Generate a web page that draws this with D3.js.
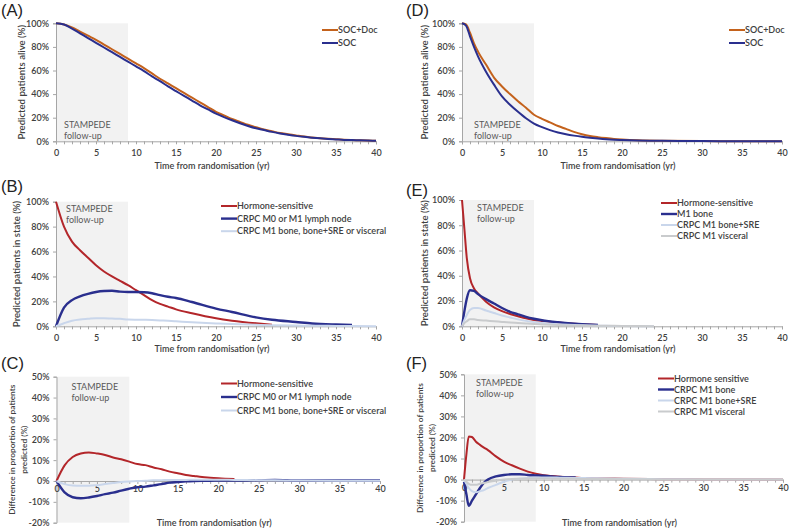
<!DOCTYPE html>
<html>
<head>
<meta charset="utf-8">
<script src="https://cdn.jsdelivr.net/npm/d3@7"></script>
<style>
  body { margin: 0; background: #fff; }
  svg { font-family: Lato, "Open Sans", sans-serif; }
</style>
</head>
<body>
<svg id="chart" width="791" height="530"></svg>
<script>
// ---- data ----
// (A) survival, high-risk non-metastatic
const yearsA = [0,1,2,3,4,5,6,7,8,9,10,11,12,13,14,15,16,17,18,19,20,21,22,23,24,25,26,27,28,29,30,31,32,33,34,35,36,37,38,39,40]
const socDocA = [100,99,96.5,93,89.5,86,82,78,74,70,66,62,57.5,53,49,45,41,37,33,29,25,22,19,16.5,14,12,10,8.5,7,6,5,4,3.3,2.6,2.1,1.7,1.3,1,0.8,0.6,0.5]
const socA = [100,99,95.5,91.5,87.5,83.5,79.5,75.5,71.5,67.5,63.5,59.5,55,51,46.5,42.5,38.5,34.5,30.5,27,23.5,20.5,17.8,15.3,13,11,9.5,8,6.7,5.6,4.6,3.8,3.1,2.5,2,1.6,1.2,1,0.8,0.6,0.5]

// (D) survival, metastatic
const yearsD = [0,0.5,1,1.5,2,3,4,5,6,7,8,9,10,11,12,13,14,15,16,17,18,19,20,22,25,30,35,40]
const socDocD = [100,99,92,83,76,65,54,46.5,40,34,28.5,22.5,19,16,13,10.5,8,6,4.5,3.5,2.7,2,1.5,0.8,0.4,0.2,0.1,0.1]
const socD = [100,98,89,80,72,59,48,38,31,25,19.5,15,12,9.5,7.5,6,4.8,3.8,3,2.3,1.7,1.3,1,0.6,0.4,0.2,0.1,0.1]

// (B) state occupancy, non-metastatic
const yearsB = [0,1,2,3,4,5,6,7,8,9,10,11,12,13,14,15,17,20,22,25,27,30,32,35,37,40]
const hsB = [100,80,68,61,55,49,44,40,36.5,33,29,25,21,18,15.8,13.6,10.4,6.4,4.5,2.4,1.3,null,null,null,null,null]
const m0B = [0,15,21,24,26,27.5,28.3,28.5,27.8,27.5,27.5,27.3,26.5,25,23.7,22.7,19.5,14.2,11.5,7.2,5.3,3.5,2.3,1.4,1.0,null]
const m1B = [0,2.5,4.5,5.5,6,6.5,6.5,6.2,6,5.5,5.3,5.2,5,4.7,4.4,4,3.2,2.3,1.8,1.2,0.9,0.6,0.45,0.3,0.2,0.1]

// (E) state occupancy, metastatic
const yearsE = [0,0.3,0.6,1,1.5,2,3,4,5,6,7,8,9,10,12,15,17,18,20,24]
const hsE = [100,77,54,38,30,26,19.5,15,12,9.8,8,6.3,5,4.2,3,1.6,1.0,null,null,null]
const boneE = [0,12,22,28.5,28,25.5,21.5,18,14.5,11.5,9.5,7.5,6,4.8,3.2,1.7,1.0,null,null,null]
const sreE = [0,5,9,13,14.5,14.5,12.5,10.5,8.5,7,5.5,4.3,3.3,2.6,1.6,0.8,0.5,0.4,0.2,0.1]
const viscE = [0,2.5,4,5.5,5.5,5,4.5,4,3.5,3,2.6,2.2,1.8,1.5,1,0.6,0.45,0.4,0.3,0.1]

// (C) difference SOC+Doc minus SOC, non-metastatic
const yearsC = [0,1,2,3,4,5,6,7,8,9,10,11,12,13,14,15,16,17,18,19,20,22,25,27,30,35,40]
const hsC = [0,7.5,11.5,13.2,13.7,13.2,12.5,11.3,10.4,9.3,8.1,7.6,6.5,5.6,4.5,3.7,2.9,2.4,1.9,1.6,1.3,0.9,null,null,null,null,null]
const m0C = [0,-5.5,-7.8,-8.3,-7.9,-7.2,-6.3,-5.6,-4.6,-3.7,-3,-2.7,-2.1,-1.5,-0.8,-0.5,-0.2,0,0.1,0.1,0.2,0.2,0.3,0.5,0.2,0.2,0.2]
const m1C = [0,-1.5,-2.2,-2.3,-2.3,-2,-1.5,-1,-0.5,-0.2,0,0.1,0.3,0.4,0.5,0.5,0.5,0.6,0.6,0.6,0.6,0.5,0.4,0.3,0.2,0.1,0.1]

// (F) difference SOC+Doc minus SOC, metastatic
const yearsF = [0,0.3,0.6,1,1.5,2,2.5,3,4,5,6,7,8,9,10,11,12,14,15,20,25,30,40]
const hsF = [0,12,20.5,20.2,18,16.5,15.2,14,11,8.5,6.8,5.2,3.8,2.8,2.1,1.7,1.4,1.0,0.8,0.4,0.2,0.1,0]
const boneF = [-1,-7,-12.5,-10,-7,-4,-1.5,0,1.5,2.2,2.5,2.5,2.2,2,1.8,1.5,1.2,1.0,null,null,null,null,null]
const sreF = [0,-2,-4,-5.5,-6,-5.5,-5,-4,-2.5,-1,0,0.5,0.8,0.9,1,1,0.9,0.8,0.7,0.4,0.2,0.1,0]
const viscF = [0,-1,-2,-2.5,-2.5,-2,-1.6,-1.2,-0.5,0,0.3,0.4,0.5,0.5,0.5,0.45,0.4,0.35,0.3,0.2,0.1,0.1,0]

const xTicks = [0,5,10,15,20,25,30,35,40]
const survTicks = [0,20,40,60,80,100]
const diffTicks = [-20,-10,0,10,20,30,40,50]
const followUp = 9

// ---- colours ----
const ORANGE = "#C4621C", NAVY = "#2A2F8E", RED = "#B3262A", LIGHT = "#C9D6EB", GREY = "#C9CBCD"
const FS = 9

const svg = d3.select("#chart")

function panel(cfg) {
  const x = d3.scaleLinear().domain([0, 40]).range([cfg.x0, cfg.x1])
  const y = d3.scaleLinear().domain(cfg.domain).range([cfg.yBot, cfg.yTop])
  const g = svg.append("g")

  // shaded follow-up window
  g.append("rect")
    .attr("x", x(0)).attr("y", y(cfg.domain[1]))
    .attr("width", x(followUp) - x(0))
    .attr("height", y(cfg.domain[0]) - y(cfg.domain[1]))
    .attr("fill", "#F2F2F2")

  const st = g.append("text").attr("font-size", FS).attr("fill", "#595959")
  st.append("tspan").attr("x", x(0) + cfg.stDx).attr("y", cfg.stY).text("STAMPEDE")
  st.append("tspan").attr("x", x(0) + cfg.stDx).attr("y", cfg.stY + 10.5).text("follow-up")

  // y axis
  const ya = g.append("g").attr("transform", "translate(" + x(0) + ",0)")
    .call(d3.axisLeft(y).tickValues(cfg.yTicks).tickSize(3).tickPadding(4).tickFormat(d => d + "%"))
  // x axis (every year tick, labels every 5)
  const zero = cfg.domain[0] < 0 ? y(0) : y(cfg.domain[0])
  const xa = g.append("g").attr("transform", "translate(0," + zero + ")")
    .call(d3.axisBottom(x).tickValues(d3.range(0, 41)).tickSize(3).tickPadding(cfg.xPad)
      .tickFormat(d => xTicks.includes(d) ? d : ""))
  ;[ya, xa].forEach(a => {
    a.select(".domain").attr("stroke", "#A6A6A6")
    a.selectAll(".tick line").attr("stroke", "#A6A6A6")
    a.selectAll("text").attr("fill", "#404040").attr("font-size", FS)
      .attr("font-family", "Lato, sans-serif").attr("font-weight", 600)
  })

  // axis titles
  g.append("text").attr("x", (cfg.x0 + cfg.x1) / 2 - 4).attr("y", cfg.xTitleY)
    .attr("text-anchor", "middle").attr("font-size", FS).attr("font-weight", 600)
    .attr("fill", "#404040").text("Time from randomisation (yr)")
  const yfs = cfg.yTitle.length > 1 ? 8.3 : 9.6
  cfg.yTitle.forEach((t, i) => {
    g.append("text")
      .attr("transform", "translate(" + (cfg.yTitleX + i * 12) + "," + (cfg.yTop + cfg.yBot) / 2 + ") rotate(-90)")
      .attr("text-anchor", "middle").attr("font-size", yfs).attr("font-weight", 600)
      .attr("fill", "#404040").text(t)
  })

  // panel letter
  g.append("text").attr("x", cfg.lx).attr("y", cfg.ly)
    .attr("font-size", 16.5).attr("font-family", "Liberation Sans, Arial, sans-serif")
    .attr("fill", "#222").text("(" + cfg.id + ")")

  // series
  const line = d3.line().defined(d => d[1] != null)
    .x(d => x(d[0])).y(d => y(d[1])).curve(d3.curveMonotoneX)
  cfg.series.forEach(s => {
    g.append("path").datum(cfg.years.map((t, i) => [t, s.values[i]]))
      .attr("d", line).attr("fill", "none")
      .attr("stroke", s.color).attr("stroke-width", s.w || 2)
  })

  // legend
  cfg.series.forEach((s, i) => {
    const ly = cfg.legY + i * cfg.legStep
    g.append("line").attr("x1", cfg.legX).attr("x2", cfg.legX + 16)
      .attr("y1", ly).attr("y2", ly).attr("stroke", s.color).attr("stroke-width", s.w || 2)
    g.append("text").attr("x", cfg.legX + 16).attr("y", ly + 3.2)
      .attr("font-size", FS).attr("font-weight", 600).attr("fill", "#404040").text(s.name)
  })
}

const row1 = { domain: [0, 100], yTicks: survTicks, xPad: 5 }
const row2 = { domain: [0, 100], yTicks: survTicks, xPad: 5 }
const row3 = { domain: [-20, 50], yTicks: diffTicks, xPad: 2 }

panel(Object.assign({}, row1, {
  id: "A", x0: 56, x1: 376, yTop: 23.3, yBot: 141.3, xTitleY: 169,
  yTitle: ["Predicted patients alive (%)"], yTitleX: 25, lx: 1, ly: 16,
  stDx: 8, stY: 128, legX: 322, legY: 30, legStep: 13,
  years: yearsA,
  series: [
    { name: "SOC+Doc", color: ORANGE, values: socDocA },
    { name: "SOC", color: NAVY, values: socA }
  ]
}))

panel(Object.assign({}, row1, {
  id: "D", x0: 462, x1: 782, yTop: 23.3, yBot: 141.3, xTitleY: 169,
  yTitle: ["Predicted patients alive (%)"], yTitleX: 428, lx: 406, ly: 16,
  stDx: 12, stY: 128, legX: 729, legY: 30, legStep: 13,
  years: yearsD,
  series: [
    { name: "SOC+Doc", color: ORANGE, values: socDocD },
    { name: "SOC", color: NAVY, values: socD }
  ]
}))

panel(Object.assign({}, row2, {
  id: "B", x0: 56, x1: 376, yTop: 201.7, yBot: 326.3, xTitleY: 352,
  yTitle: ["Predicted patients in state (%)"], yTitleX: 20, lx: 1, ly: 192,
  stDx: 10, stY: 212, legX: 221, legY: 206, legStep: 12.6,
  years: yearsB,
  series: [
    { name: "Hormone-sensitive", color: RED, values: hsB },
    { name: "CRPC M0 or M1 lymph node", color: NAVY, values: m0B, w: 2.4 },
    { name: "CRPC M1 bone, bone+SRE or visceral", color: LIGHT, values: m1B }
  ]
}))

panel(Object.assign({}, row2, {
  id: "E", x0: 462, x1: 782, yTop: 200, yBot: 326.3, xTitleY: 352,
  yTitle: ["Predicted patients in state (%)"], yTitleX: 428, lx: 406, ly: 196,
  stDx: 15, stY: 211, legX: 661, legY: 203, legStep: 11,
  years: yearsE,
  series: [
    { name: "Hormone-sensitive", color: RED, values: hsE },
    { name: "M1 bone", color: NAVY, values: boneE, w: 2.4 },
    { name: "CRPC M1 bone+SRE", color: LIGHT, values: sreE },
    { name: "CRPC M1 visceral", color: GREY, values: viscE }
  ]
}))

panel(Object.assign({}, row3, {
  id: "C", x0: 56.5, x1: 380, yTop: 376.7, yBot: 522.7, xTitleY: 526,
  yTitle: ["Difference in proportion of patients", "predicted (%)"], yTitleX: 15, lx: 1, ly: 369,
  stDx: 15, stY: 390, legX: 221, legY: 383.5, legStep: 13.5,
  years: yearsC,
  series: [
    { name: "Hormone-sensitive", color: RED, values: hsC },
    { name: "CRPC M0 or M1 lymph node", color: NAVY, values: m0C, w: 2.4 },
    { name: "CRPC M1 bone, bone+SRE or visceral", color: LIGHT, values: m1C }
  ]
}))

panel(Object.assign({}, row3, {
  id: "F", x0: 464, x1: 783, yTop: 374.3, yBot: 521.7, xTitleY: 526,
  yTitle: ["Difference in proportion of patients", "predicted (%)"], yTitleX: 423, lx: 406, ly: 369,
  stDx: 12, stY: 386, legX: 658, legY: 378.5, legStep: 11,
  years: yearsF,
  series: [
    { name: "Hormone sensitive", color: RED, values: hsF },
    { name: "CRPC M1 bone", color: NAVY, values: boneF, w: 2.4 },
    { name: "CRPC M1 bone+SRE", color: LIGHT, values: sreF },
    { name: "CRPC M1 visceral", color: GREY, values: viscF }
  ]
}))
</script>
</body>
</html>
